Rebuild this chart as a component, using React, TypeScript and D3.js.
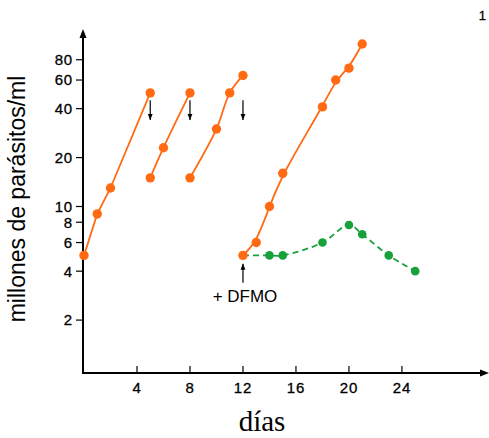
import React from "react";
import * as d3 from "d3";

// Parasite counts (millions/ml) over days, log scale
const series1Days = [0, 1, 2, 5];
const series1Vals = [5, 9, 13, 50];
const series2Days = [5, 6, 8];
const series2Vals = [15, 23, 50];
const series3Days = [8, 10, 11, 12];
const series3Vals = [15, 30, 50, 64];
const controlDays = [12, 13, 14, 15, 18, 19, 20, 21];
const controlVals = [5, 6, 10, 16, 41, 60, 71, 100];
const dfmoDays = [12, 14, 15, 18, 20, 21, 23, 25];
const dfmoVals = [5, 5, 5, 6, 7.7, 6.75, 5, 4];

// Sub-culture dilution markers (day) and their value span
const dilutionDays = [5, 8, 12];
const dilutionFrom = 45;
const dilutionTo = 34;
// DFMO addition marker
const dfmoAddDay = 12;
const dfmoArrowFrom = 3.4;
const dfmoArrowTo = 4.45;

const xTicks = [4, 8, 12, 16, 20, 24];
const yTicks = [2, 4, 6, 8, 10, 20, 40, 60, 80];

const W = 489;
const H = 438;
const ORANGE = "#FF6A13";
const GREEN = "#17A03B";

const x = d3.scaleLinear().domain([0, 30.42]).range([84, 487]);
const y = d3.scaleLog().domain([0.945, 121.9]).range([373, 30]);

const zip = (ds: number[], vs: number[]) => ds.map((d, i) => [d, vs[i]] as [number, number]);

const makeLine = (curve: d3.CurveFactory) =>
  d3
    .line<[number, number]>()
    .x((d) => x(d[0]))
    .y((d) => y(d[1]))
    .curve(curve);

const lineStraight = makeLine(d3.curveLinear);
const lineSmooth = makeLine(d3.curveCatmullRom.alpha(0.5));
const lineFit = makeLine(d3.curveBasis);

const SANS = "'Liberation Sans', Arial, Helvetica, sans-serif";
const SERIF = "'Liberation Serif', 'Times New Roman', serif";

export default function App() {
  const s1 = zip(series1Days, series1Vals);
  const s2 = zip(series2Days, series2Vals);
  const s3 = zip(series3Days, series3Vals);
  const ctrl = zip(controlDays, controlVals);
  const green = zip(dfmoDays, dfmoVals);
  const orangePts = [...s1, ...s2, ...s3, ...ctrl];
  const axisX0 = 83;
  const axisY0 = 373;

  return (
    <svg
      width={W}
      height={H}
      viewBox={`0 0 ${W} ${H}`}
      style={{ position: "absolute", left: 0, top: 0, display: "block", background: "#fff" }}
    >
      <defs>
        <marker id="arrowHead" viewBox="0 0 10 10" refX="10" refY="5" markerWidth="6" markerHeight="6" orient="auto" markerUnits="userSpaceOnUse">
          <path d="M0,1 L10,5 L0,9 Z" fill="#000" />
        </marker>
      </defs>

      {/* axes */}
      <line x1={axisX0} y1={axisY0} x2={axisX0} y2={34} stroke="#000" strokeWidth={2} />
      <path d={`M${axisX0},29 L${axisX0 - 3.5},38 L${axisX0 + 3.5},38 Z`} fill="#000" />
      <line x1={axisX0 - 1} y1={axisY0} x2={484} y2={axisY0} stroke="#000" strokeWidth={2} />
      <path d={`M489,${axisY0} L480,${axisY0 - 3.5} L480,${axisY0 + 3.5} Z`} fill="#000" />

      {yTicks.map((t) => (
        <g key={`yt${t}`}>
          <line x1={axisX0 - 7} x2={axisX0} y1={y(t)} y2={y(t)} stroke="#000" strokeWidth={1.2} />
          <text
            x={73}
            y={y(t)}
            dy="0.36em"
            textAnchor="end"
            fontFamily={SANS}
            fontSize={15}
            letterSpacing={0.8}
            stroke="#000"
            strokeWidth={0.3}
            fill="#000"
          >
            {t}
          </text>
        </g>
      ))}
      {xTicks.map((t) => (
        <g key={`xt${t}`}>
          <line x1={x(t)} x2={x(t)} y1={axisY0} y2={axisY0 - 7} stroke="#000" strokeWidth={1.2} />
          <text
            x={x(t)}
            y={393}
            textAnchor="middle"
            fontFamily={SANS}
            fontSize={15}
            letterSpacing={0.8}
            stroke="#000"
            strokeWidth={0.3}
            fill="#000"
          >
            {t}
          </text>
        </g>
      ))}

      <text x={262} y={431} textAnchor="middle" fontFamily={SERIF} fontSize={29} fill="#000">
        días
      </text>
      <text
        transform={`translate(25,199) rotate(-90)`}
        textAnchor="middle"
        fontFamily={SANS}
        fontSize={23}
        fill="#000"
      >
        millones de parásitos/ml
      </text>
      <text x={486} y={20} textAnchor="end" fontFamily={SANS} fontSize={13} stroke="#000" strokeWidth={0.3} fill="#000">
        1
      </text>

      {/* DFMO-treated culture */}
      <path d={lineSmooth(green) ?? ""} fill="none" stroke={GREEN} strokeWidth={1.8} strokeDasharray="6,4" />

      {/* untreated cultures */}
      <path d={lineStraight(s1) ?? ""} fill="none" stroke={ORANGE} strokeWidth={1.8} />
      <path d={lineSmooth(s2) ?? ""} fill="none" stroke={ORANGE} strokeWidth={1.8} />
      <path d={lineSmooth(s3) ?? ""} fill="none" stroke={ORANGE} strokeWidth={1.8} />
      <path d={lineFit(ctrl) ?? ""} fill="none" stroke={ORANGE} strokeWidth={1.8} />

      {green.slice(1).map((d, i) => (
        <circle key={`g${i}`} cx={x(d[0])} cy={y(d[1])} r={4.3} fill={GREEN} />
      ))}
      {orangePts.map((d, i) => (
        <circle key={`oc${i}`} cx={x(d[0])} cy={y(d[1])} r={4.7} fill={ORANGE} />
      ))}

      {/* dilution arrows */}
      {dilutionDays.map((d) => (
        <line
          key={`da${d}`}
          x1={x(d)}
          x2={x(d)}
          y1={y(dilutionFrom)}
          y2={y(dilutionTo)}
          stroke="#000"
          strokeWidth={1.2}
          markerEnd="url(#arrowHead)"
        />
      ))}

      {/* DFMO addition */}
      <line
        x1={x(dfmoAddDay)}
        x2={x(dfmoAddDay)}
        y1={y(dfmoArrowFrom)}
        y2={y(dfmoArrowTo)}
        stroke="#000"
        strokeWidth={1.2}
        markerEnd="url(#arrowHead)"
      />
      <text x={245} y={302} textAnchor="middle" fontFamily={SANS} fontSize={17} fill="#000">
        + DFMO
      </text>
    </svg>
  );
}
